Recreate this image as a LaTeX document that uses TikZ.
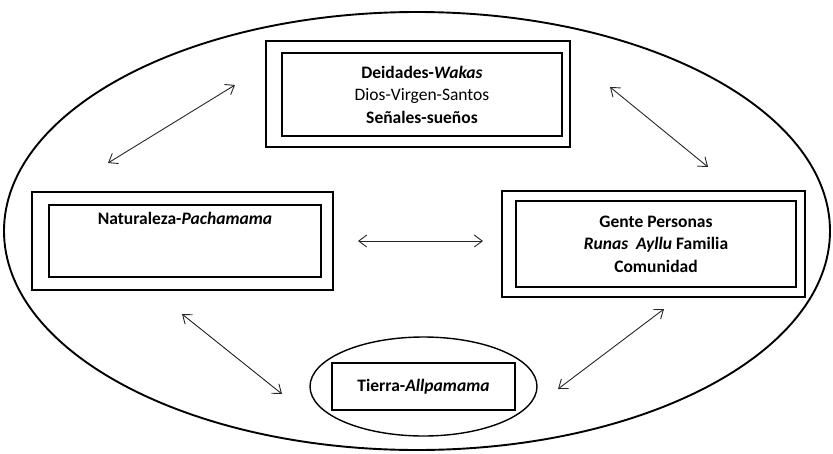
\documentclass[tikz,border=0pt]{standalone}
\usepackage{fontspec}
\setmainfont{Carlito}
\usetikzlibrary{shapes.geometric, arrows.meta, positioning}
\tikzset{
  % Box styles
  outerbox/.style={rectangle, draw=black, line width=1.5pt, inner sep=0pt},
  innerbox/.style={rectangle, draw=black, line width=1.5pt, inner sep=0pt, align=center, font=\fontsize{17.5}{22.5}\selectfont},
  bigoval/.style={ellipse, draw=black, line width=1.9pt, inner sep=0pt},
  smalloval/.style={ellipse, draw=black, line width=1.4pt, inner sep=0pt},
  % Text styles
  boxtext/.style={align=center, inner sep=0pt, font=\fontsize{17.5}{22.5}\selectfont},
  % Arrow styles
  arrow/.style={<->, >={Straight Barb[length=8pt,width=12pt]}, line width=0.9pt, black!85}
}

\begin{document}
\begin{tikzpicture}[x=1pt, y=-1pt]
  \useasboundingbox (0,0) rectangle (833,453);

  % world
  \node[bigoval, minimum width=826, minimum height=438] (world) at (417,231) {};

  % deities
  \node[outerbox, minimum width=304, minimum height=106] (godsout) at (418,94) {};
  \node[innerbox, minimum width=280, minimum height=83] (gods) at (422,94.5) {
    \textbf{Deidades-\textit{Wakas}}\\
    Dios-Virgen-Santos\\
    \textbf{Señales-sueños}
  };

  % nature
  \node[outerbox, minimum width=301, minimum height=98] (natureout) at (182.5,241) {};
  \node[innerbox, minimum width=272, minimum height=72] (nature) at (185,241) {};
  \node[boxtext, anchor=north] (naturetext) at ([yshift=-8pt]nature.north) {\textbf{Naturaleza-\textit{Pachamama}}};

  % people
  \node[outerbox, minimum width=303, minimum height=106] (peopleout) at (653.5,244) {};
  \node[innerbox, minimum width=280, minimum height=86] (people) at (656,244) {
    \textbf{Gente Personas}\\
    \textbf{\textit{Runas\ \ Ayllu} Familia}\\
    \textbf{Comunidad}
  };

  % earth
  \node[smalloval, minimum width=227, minimum height=99] (earthout) at (423.5,386.5) {};
  \node[innerbox, minimum width=183, minimum height=47] (earth) at (423.5,386.5) {\textbf{Tierra-\textit{Allpamama}}};

  % links
  \coordinate (gn) at (235,85);
  \coordinate (ng) at (108,163);
  \coordinate (gp) at (610,87);
  \coordinate (pg) at (708,167);
  \coordinate (ne) at (182,314);
  \coordinate (en) at (282,394);
  \coordinate (pe) at (664,309);
  \coordinate (ep) at (558,389);
  \coordinate (np) at (358,241);
  \coordinate (pn) at (483,241);

  \draw[arrow] (gn) -- (ng);
  \draw[arrow] (gp) -- (pg);
  \draw[arrow] (ne) -- (en);
  \draw[arrow] (pe) -- (ep);
  \draw[arrow] (np) -- (pn);
\end{tikzpicture}
\end{document}
